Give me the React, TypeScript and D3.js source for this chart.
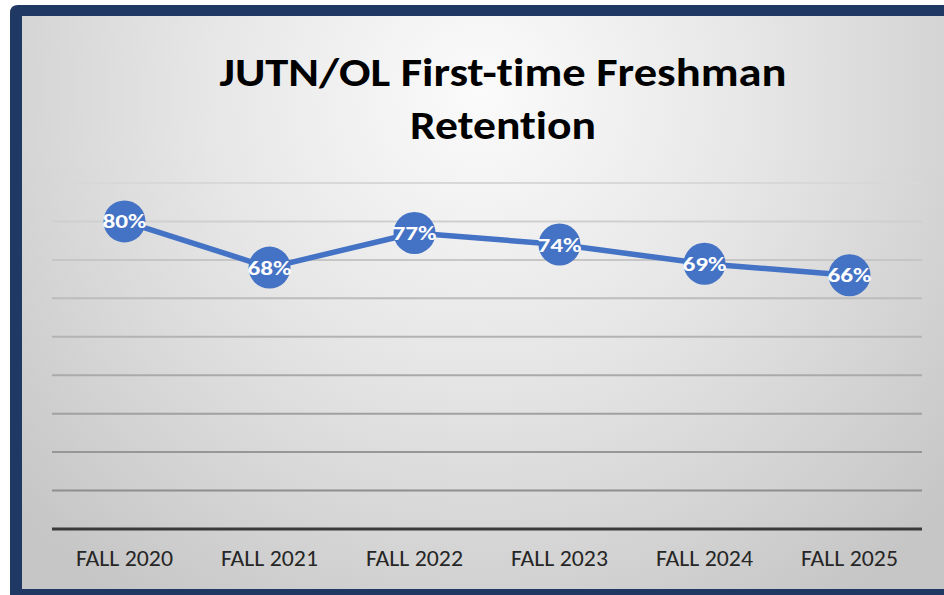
import React from "react";
import * as d3 from "d3";

const categories = ["FALL 2020", "FALL 2021", "FALL 2022", "FALL 2023", "FALL 2024", "FALL 2025"];
const retention = [80, 68, 77, 74, 69, 66];
const gridTicks = [10, 20, 30, 40, 50, 60, 70, 80, 90];
const titleLines = ["JUTN/OL First-time Freshman", "Retention"];

const W = 944;
const H = 595;
const FONT = "Carlito, Calibri, Lato, 'Open Sans', sans-serif";

export default function App() {
  const x = d3.scaleBand<string>().domain(categories).range([52, 922]);
  const y = d3.scaleLinear().domain([0, 90]).range([529, 183]);
  const gridColor = d3.scaleLinear<string>().domain([90, 10]).range(["#d8d8d8", "#8e8e8e"]);
  const pts = categories.map((c, i) => [x(c)! + x.bandwidth() / 2, y(retention[i])] as [number, number]);
  const line = d3.line()(pts) || "";

  return (
    <svg
      width={W}
      height={H}
      style={{ position: "absolute", left: 0, top: 0, fontVariantLigatures: "none" }}
    >
      <defs>
        <radialGradient id="bg" cx="480" cy="90" r="620" gradientUnits="userSpaceOnUse">
          <stop offset="0" stopColor="#fbfbfb" />
          <stop offset="0.45" stopColor="#e6e6e6" />
          <stop offset="1" stopColor="#c6c6c6" />
        </radialGradient>
      </defs>
      <rect x={0} y={0} width={W} height={H} fill="#ffffff" />
      <path d={`M10,${H} L10,13 Q10,5 18,5 L${W},5 L${W},${H} Z`} fill="#1f3864" />
      <rect x={22} y={16} width={W - 22} height={589 - 16} fill="url(#bg)" />

      {gridTicks.map((t) => (
        <line key={t} x1={52} x2={922} y1={y(t)} y2={y(t)} stroke={gridColor(t)} strokeWidth={2} />
      ))}
      <line x1={52} x2={922} y1={y(0)} y2={y(0)} stroke="#3a3a3a" strokeWidth={3} />

      {titleLines.map((t, i) => (
        <text
          key={t}
          x={503}
          y={86 + i * 53}
          textAnchor="middle"
          fontFamily={FONT}
          fontWeight="bold"
          fontSize={41}
          fill="#000"
          textLength={i === 0 ? 567 : 186}
          lengthAdjust="spacingAndGlyphs"
          style={{ fontVariantLigatures: "none" }}
        >
          {t}
        </text>
      ))}

      <path d={line} fill="none" stroke="#4472c4" strokeWidth={5.5} strokeLinejoin="round" />
      {pts.map((p, i) => (
        <g key={categories[i]}>
          <circle cx={p[0]} cy={p[1]} r={21} fill="#4472c4" />
          <text
            x={p[0]}
            y={p[1] + 7}
            textAnchor="middle"
            fontFamily={FONT}
            fontWeight="bold"
            fontSize={21}
            fill="#ffffff"
            textLength={44}
            lengthAdjust="spacingAndGlyphs"
          >
            {retention[i]}%
          </text>
        </g>
      ))}

      {categories.map((c) => (
        <text
          key={c}
          x={x(c)! + x.bandwidth() / 2}
          y={566}
          textAnchor="middle"
          fontFamily={FONT}
          fontSize={22}
          fill="#262626"
          textLength={97}
          lengthAdjust="spacingAndGlyphs"
        >
          {c}
        </text>
      ))}
    </svg>
  );
}
